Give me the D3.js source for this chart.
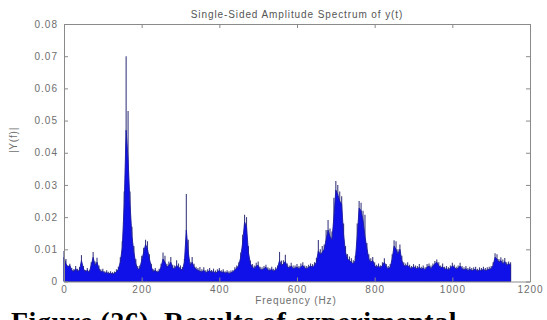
<!DOCTYPE html>
<html>
<head>
<meta charset="utf-8">
<script src="https://cdn.jsdelivr.net/npm/d3@7"></script>
<style>
  html, body { margin: 0; padding: 0; background: #fff; }
  svg { display: block; }
  .tick text, .lbl { font-family: "Liberation Sans", Arial, sans-serif; }
</style>
</head>
<body>
<svg id="chart" width="547" height="320"></svg>
<script>
// Frequency bins (Hz) of the one-sided spectrum
const freqHz = [
  0, 5, 10, 15, 20, 25, 30, 35, 40, 45,
  50, 55, 60, 65, 70, 75, 80, 85, 90, 95,
  100, 105, 110, 115, 120, 125, 130, 135, 140, 145,
  150, 155, 160, 165, 170, 175, 180, 185, 190, 195,
  200, 205, 210, 215, 220, 225, 230, 235, 240, 245,
  250, 255, 260, 265, 270, 275, 280, 285, 290, 295,
  300, 305, 310, 315, 320, 325, 330, 335, 340, 345,
  350, 355, 360, 365, 370, 375, 380, 385, 390, 395,
  400, 405, 410, 415, 420, 425, 430, 435, 440, 445,
  450, 455, 460, 465, 470, 475, 480, 485, 490, 495,
  500, 505, 510, 515, 520, 525, 530, 535, 540, 545,
  550, 555, 560, 565, 570, 575, 580, 585, 590, 595,
  600, 605, 610, 615, 620, 625, 630, 635, 640, 645,
  650, 655, 660, 665, 670, 675, 680, 685, 690, 695,
  700, 705, 710, 715, 720, 725, 730, 735, 740, 745,
  750, 755, 760, 765, 770, 775, 780, 785, 790, 795,
  800, 805, 810, 815, 820, 825, 830, 835, 840, 845,
  850, 855, 860, 865, 870, 875, 880, 885, 890, 895,
  900, 905, 910, 915, 920, 925, 930, 935, 940, 945,
  950, 955, 960, 965, 970, 975, 980, 985, 990, 995,
  1000, 1005, 1010, 1015, 1020, 1025, 1030, 1035, 1040, 1045,
  1050, 1055, 1060, 1065, 1070, 1075, 1080, 1085, 1090, 1095,
  1100, 1105, 1110, 1115, 1120, 1125, 1130, 1135, 1140, 1145,
  1150
];

// Dense part of |Y(f)| in each bin (x 0.001)
const bodyMilli = [
  7.5, 5.5, 4.5, 5.0, 3.5, 3.0, 4.0, 3.2, 3.5, 6.5,
  4.0, 3.0, 3.5, 2.8, 5.0, 7.5, 5.0, 6.0, 4.0, 3.0,
  3.2, 2.6, 2.8, 2.4, 2.6, 2.3, 2.5, 3.0, 3.8, 6.0,
  10.5, 24.0, 47.0, 38.0, 24.0, 14.0, 9.0, 5.5, 3.8, 4.0,
  6.5, 9.0, 11.5, 10.0, 7.0, 4.5, 3.0, 3.5, 2.8, 3.2,
  4.5, 7.0, 6.0, 4.5, 5.0, 6.0, 4.2, 4.0, 5.0, 4.5,
  4.0, 3.5, 6.0, 16.0, 9.0, 5.0, 6.0, 4.5, 3.8, 3.5,
  3.2, 3.0, 3.5, 2.8, 3.0, 3.4, 2.8, 3.2, 2.6, 3.0,
  3.4, 2.8, 3.0, 2.6, 2.8, 2.5, 2.7, 3.0, 3.6, 4.2,
  5.0, 7.5, 12.0, 18.5, 17.0, 9.0, 5.5, 4.5, 4.0, 4.8,
  5.0, 3.8, 3.6, 4.0, 4.4, 3.6, 3.4, 3.8, 3.2, 3.6,
  4.2, 6.5, 5.0, 5.5, 6.2, 4.6, 4.2, 4.8, 4.0, 4.2,
  4.5, 4.0, 4.6, 5.0, 4.2, 4.0, 4.4, 4.8, 4.5, 5.0,
  6.0, 9.5, 8.5, 9.0, 10.0, 13.0, 16.0, 14.0, 13.0, 20.0,
  28.4, 27.0, 25.0, 24.0, 14.5, 9.0, 7.0, 6.5, 6.0, 5.5,
  6.5, 14.0, 22.8, 22.0, 19.0, 14.0, 10.3, 7.0, 6.0, 6.5,
  5.0, 4.4, 4.8, 4.2, 5.0, 6.0, 4.5, 4.0, 4.4, 7.0,
  11.0, 10.0, 8.5, 10.0, 6.5, 5.0, 4.8, 5.0, 4.4, 4.0,
  4.6, 4.2, 4.0, 4.4, 3.8, 4.2, 3.6, 4.5, 4.8, 4.0,
  4.8, 5.5, 6.0, 5.0, 4.2, 4.6, 3.8, 4.0, 3.6, 4.2,
  4.8, 4.4, 3.8, 4.2, 4.8, 4.0, 3.6, 4.0, 3.4, 3.8,
  3.4, 3.6, 3.8, 3.2, 3.6, 3.4, 3.8, 3.4, 3.6, 3.8,
  4.0, 5.0, 7.5, 7.0, 6.0, 6.5, 5.5, 6.2, 5.0, 5.5,
  5.2
];

// Highest spike of |Y(f)| in each bin (x 0.001)
const peakMilli = [
  9.5, 7.0, 5.0, 5.5, 4.2, 3.8, 4.8, 4.0, 4.5, 8.2,
  4.8, 3.6, 4.2, 3.5, 6.0, 9.2, 6.2, 7.4, 5.0, 3.8,
  4.0, 3.2, 3.5, 3.0, 3.2, 2.9, 3.1, 3.8, 4.6, 7.5,
  12.5, 28.0, 70.0, 53.0, 28.0, 17.0, 11.0, 7.0, 4.8, 5.0,
  8.0, 10.5, 13.0, 12.5, 8.5, 5.5, 3.8, 4.2, 3.4, 4.0,
  5.5, 9.0, 8.0, 5.5, 6.2, 7.6, 5.2, 5.0, 6.6, 5.6,
  5.0, 4.5, 7.0, 27.2, 13.0, 6.0, 7.6, 5.5, 4.6, 4.2,
  4.5, 3.8, 4.4, 3.5, 3.8, 4.2, 3.6, 4.0, 3.4, 3.8,
  4.2, 3.5, 3.8, 3.2, 3.5, 3.2, 3.4, 3.6, 4.4, 5.0,
  6.0, 9.0, 14.5, 20.7, 20.0, 11.0, 6.5, 5.4, 5.0, 5.8,
  6.2, 4.6, 4.4, 4.8, 5.2, 4.4, 4.1, 4.6, 4.0, 4.4,
  5.0, 9.2, 6.5, 6.6, 8.3, 5.6, 5.0, 5.8, 5.0, 5.0,
  5.4, 4.8, 5.6, 6.0, 5.0, 4.8, 5.2, 5.6, 5.4, 6.0,
  7.4, 12.9, 10.0, 11.0, 11.5, 16.0, 19.1, 16.5, 15.5, 26.0,
  31.2, 30.0, 28.0, 26.5, 18.0, 11.0, 8.5, 7.8, 7.2, 6.6,
  8.0, 18.0, 25.0, 24.5, 22.0, 20.7, 12.0, 8.5, 7.2, 7.6,
  6.0, 5.2, 5.6, 5.0, 6.0, 7.2, 5.4, 4.8, 5.4, 8.5,
  12.8, 12.5, 10.0, 11.5, 8.0, 6.0, 5.6, 6.0, 5.2, 4.8,
  5.4, 5.0, 4.8, 5.4, 4.6, 5.0, 4.4, 5.4, 5.6, 5.0,
  5.6, 6.4, 6.8, 6.0, 5.0, 5.6, 4.6, 4.8, 4.4, 5.0,
  5.8, 5.2, 4.6, 5.0, 5.8, 4.8, 4.4, 4.8, 4.2, 4.6,
  4.2, 4.4, 4.6, 4.0, 4.4, 4.2, 4.6, 4.2, 4.4, 4.6,
  4.8, 6.0, 8.8, 8.5, 7.0, 7.5, 6.8, 7.3, 6.0, 6.2,
  6.0
];

const xTicks = [0, 200, 400, 600, 800, 1000, 1200];
const yTicks = [0, 0.01, 0.02, 0.03, 0.04, 0.05, 0.06, 0.07, 0.08];
const yTickLabels = ["0", "0.01", "0.02", "0.03", "0.04", "0.05", "0.06", "0.07", "0.08"];

const titleText = "Single-Sided Amplitude Spectrum of y(t)";
const xLabelText = "Frequency (Hz)";
const yLabelText = "|Y(f)|";
const captionText = "Figure (26). Results of experimental";

const MILLI = 1000;
const spectrum = freqHz.map((f, i) => ({
  f: f,
  body: bodyMilli[i] / MILLI,
  peak: peakMilli[i] / MILLI
}));

const svg = d3.select("#chart");
const plot = { left: 64, right: 530, top: 24, bottom: 281.5 };

const x = d3.scaleLinear().domain([0, 1200]).range([plot.left, plot.right]);
const y = d3.scaleLinear().domain([0, 0.08]).range([plot.bottom, plot.top]);

const axisColor = "#8a8a8a";
const labelColor = "#6e6e6e";

// Thin spike tips standing above the dense band
svg.append("g")
  .selectAll("line")
  .data(spectrum)
  .join("line")
  .attr("x1", d => x(d.f))
  .attr("x2", d => x(d.f))
  .attr("y1", y(0))
  .attr("y2", d => y(d.peak))
  .attr("stroke", "#3d3d80")
  .attr("stroke-width", 1.1);

// Dense blue band of the spectrum
const band = d3.area()
  .x(d => x(d.f))
  .y0(y(0))
  .y1(d => y(d.body));

svg.append("path")
  .datum(spectrum)
  .attr("d", band)
  .attr("fill", "#1010e8")
  .attr("stroke", "#1c1ca0")
  .attr("stroke-width", 0.9)
  .attr("stroke-linejoin", "round");

// Axes box with inward ticks on all four sides
function styleAxis(g) {
  g.select(".domain").attr("stroke", axisColor).attr("stroke-width", 1);
  g.selectAll(".tick line").attr("stroke", axisColor);
  g.selectAll(".tick text")
    .attr("fill", labelColor)
    .attr("font-size", 10)
    .attr("letter-spacing", 1);
}

svg.append("g")
  .attr("transform", `translate(0,${plot.bottom})`)
  .call(d3.axisBottom(x).tickValues(xTicks).tickSize(-4).tickSizeOuter(0).tickPadding(4.5).tickFormat(d3.format("d")))
  .call(styleAxis);

svg.append("g")
  .attr("transform", `translate(0,${plot.top})`)
  .call(d3.axisTop(x).tickValues(xTicks).tickSize(-4).tickSizeOuter(0).tickFormat(""))
  .call(styleAxis);

svg.append("g")
  .attr("transform", `translate(${plot.left},0)`)
  .call(d3.axisLeft(y).tickValues(yTicks).tickSize(-4).tickSizeOuter(0).tickPadding(6)
    .tickFormat((d, i) => yTickLabels[i]))
  .call(styleAxis);

svg.append("g")
  .attr("transform", `translate(${plot.right},0)`)
  .call(d3.axisRight(y).tickValues(yTicks).tickSize(-4).tickSizeOuter(0).tickFormat(""))
  .call(styleAxis);

// Title and axis labels
svg.append("text")
  .attr("class", "lbl")
  .attr("x", (plot.left + plot.right) / 2)
  .attr("y", 18)
  .attr("text-anchor", "middle")
  .attr("font-size", 10)
  .attr("letter-spacing", 0.9)
  .attr("fill", "#555")
  .text(titleText);

svg.append("text")
  .attr("class", "lbl")
  .attr("x", 296)
  .attr("y", 304)
  .attr("text-anchor", "middle")
  .attr("font-size", 10)
  .attr("letter-spacing", 0.9)
  .attr("fill", labelColor)
  .text(xLabelText);

svg.append("text")
  .attr("class", "lbl")
  .attr("transform", "translate(17,140) rotate(-90)")
  .attr("text-anchor", "middle")
  .attr("font-size", 10)
  .attr("letter-spacing", 0.8)
  .attr("fill", labelColor)
  .text(yLabelText);

// Figure caption
svg.append("text")
  .attr("x", 11)
  .attr("y", 331)
  .attr("font-family", "'Liberation Serif', 'Times New Roman', serif")
  .attr("font-weight", "bold")
  .attr("font-size", 28)
  .attr("letter-spacing", 0.5)
  .attr("fill", "#000")
  .text(captionText);
</script>
</body>
</html>
